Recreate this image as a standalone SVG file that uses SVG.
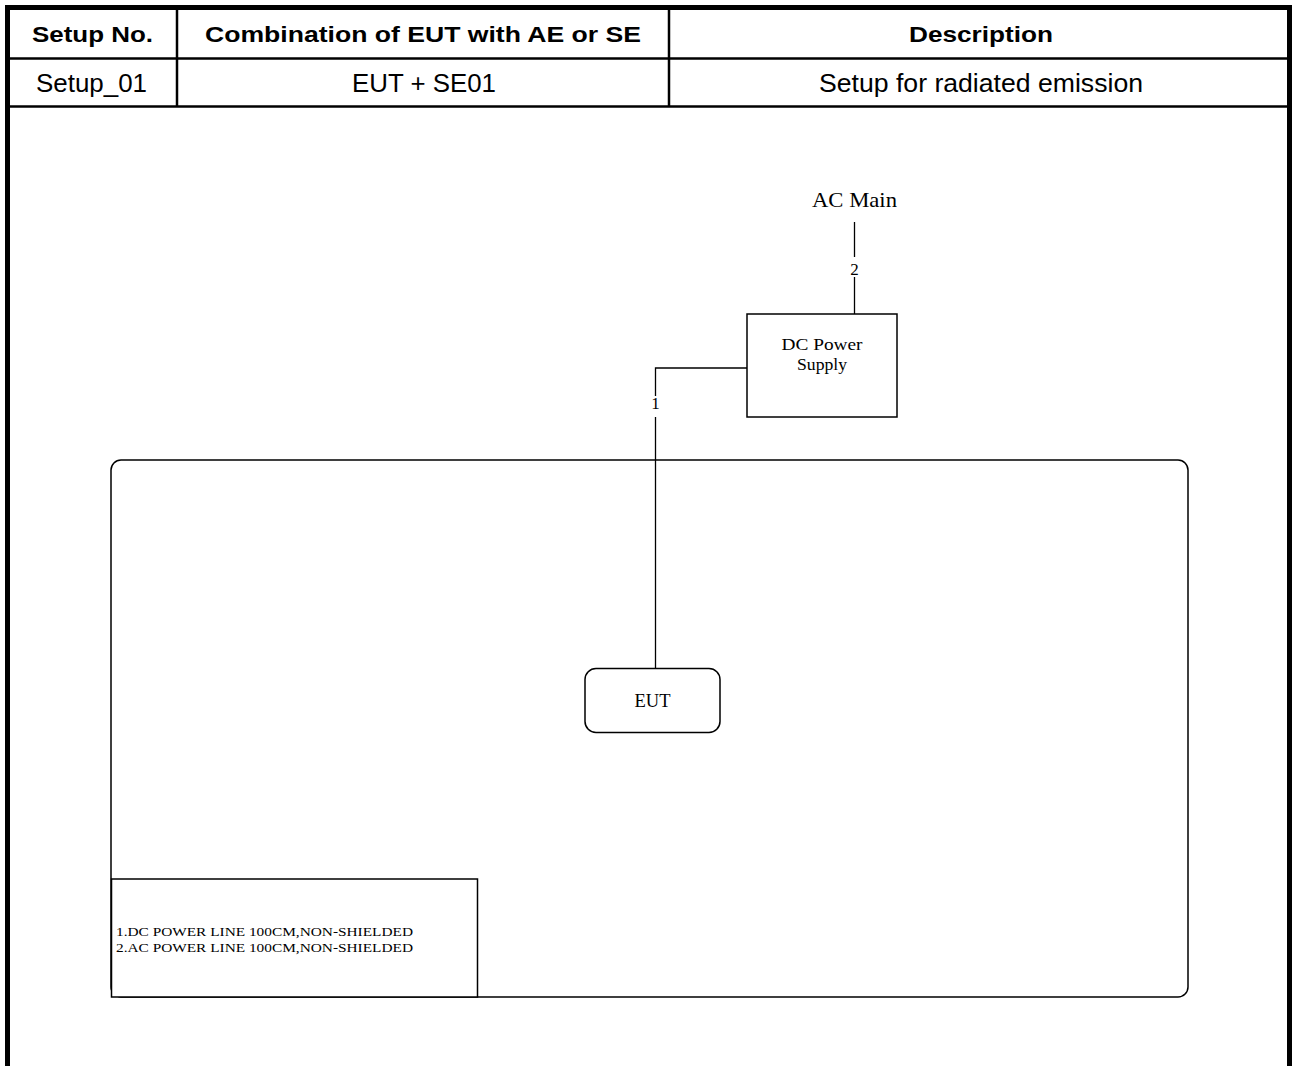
<svg xmlns="http://www.w3.org/2000/svg" width="1293" height="1066" viewBox="0 0 1293 1066">
<style>
.hdr{font-family:"Liberation Sans",Arial,sans-serif;font-weight:bold;font-size:22px;fill:#000;text-anchor:middle}
.cell{font-family:"Liberation Sans",Arial,sans-serif;font-size:25px;fill:#000;text-anchor:middle}
.ser{font-family:"Liberation Serif","Times New Roman",serif;fill:#000;text-anchor:middle}
.note{font-family:"Liberation Serif","Times New Roman",serif;fill:#000;font-size:13px;text-anchor:start}
.box{fill:#fff;stroke:#000;stroke-width:1.5}
.wire{fill:none;stroke:#000;stroke-width:1.3}
</style>
<rect width="1293" height="1066" fill="#fff"/>
<g id="table">
<line x1="7.5" y1="5" x2="7.5" y2="1066" stroke="#000" stroke-width="5"/>
<line x1="1289.5" y1="5" x2="1289.5" y2="1066" stroke="#000" stroke-width="5"/>
<line x1="5" y1="7.5" x2="1292" y2="7.5" stroke="#000" stroke-width="5"/>
<line x1="10" y1="58.5" x2="1287" y2="58.5" stroke="#000" stroke-width="2.5"/>
<line x1="10" y1="106.5" x2="1287" y2="106.5" stroke="#000" stroke-width="2.5"/>
<line x1="177" y1="10" x2="177" y2="106" stroke="#000" stroke-width="2.5"/>
<line x1="669" y1="10" x2="669" y2="106" stroke="#000" stroke-width="2.5"/>
<text class="hdr" x="92.5" y="42" textLength="121" lengthAdjust="spacingAndGlyphs">Setup No.</text>
<text class="hdr" x="423" y="42" textLength="436" lengthAdjust="spacingAndGlyphs">Combination of EUT with AE or SE</text>
<text class="hdr" x="981" y="42" textLength="144" lengthAdjust="spacingAndGlyphs">Description</text>
<text class="cell" x="91.5" y="92" textLength="111" lengthAdjust="spacingAndGlyphs">Setup_01</text>
<text class="cell" x="424" y="92" textLength="144" lengthAdjust="spacingAndGlyphs">EUT + SE01</text>
<text class="cell" x="981" y="92" textLength="324" lengthAdjust="spacingAndGlyphs">Setup for radiated emission</text>
</g>
<g id="table-area">
<rect x="111" y="460" width="1077" height="537" rx="10" ry="10" class="box"/>
</g>
<g id="connectors">
<line class="wire" x1="854.5" y1="222" x2="854.5" y2="257"/>
<line class="wire" x1="854.5" y1="277" x2="854.5" y2="314"/>
<text class="ser" x="854.5" y="275" font-size="17">2</text>
<polyline class="wire" points="747,368 655.5,368 655.5,396"/>
<line class="wire" x1="655.5" y1="417" x2="655.5" y2="668"/>
<text class="ser" x="655.5" y="409" font-size="17">1</text>
</g>
<g id="ac-main">
<text class="ser" x="854.5" y="207" font-size="21" textLength="85" lengthAdjust="spacingAndGlyphs">AC Main</text>
</g>
<g id="dc-power-supply">
<rect x="747" y="314" width="150" height="103" class="box"/>
<text class="ser" x="822" y="350" font-size="17" textLength="81" lengthAdjust="spacingAndGlyphs">DC Power</text>
<text class="ser" x="822" y="370" font-size="17" textLength="50" lengthAdjust="spacingAndGlyphs">Supply</text>
</g>
<g id="eut">
<rect x="585" y="668.5" width="135" height="64" rx="11" ry="11" class="box"/>
<text class="ser" x="652.5" y="707" font-size="18" textLength="36" lengthAdjust="spacingAndGlyphs">EUT</text>
</g>
<g id="legend">
<rect x="111.5" y="879" width="366" height="118" class="box"/>
<text class="note" x="116" y="936" textLength="297" lengthAdjust="spacingAndGlyphs">1.DC POWER LINE 100CM,NON-SHIELDED</text>
<text class="note" x="116" y="952" textLength="297" lengthAdjust="spacingAndGlyphs">2.AC POWER LINE 100CM,NON-SHIELDED</text>
</g>
</svg>
